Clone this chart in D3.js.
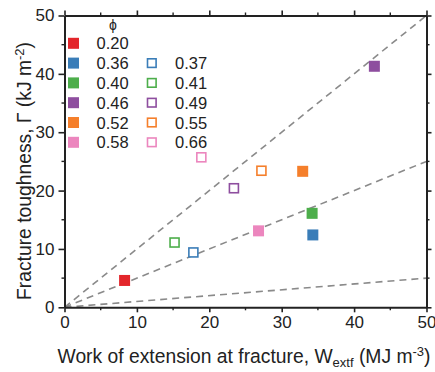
<!DOCTYPE html>
<html><head><meta charset="utf-8">
<script src="https://cdn.jsdelivr.net/npm/d3@7"></script>
<style>body{margin:0;background:#fff}svg{display:block}</style>
</head><body>
<svg id="c" width="435" height="372"></svg>
<script>
const phiLabels = ["0.20","0.36","0.37","0.40","0.41","0.46","0.49","0.52","0.55","0.58","0.66"];
const wValues   = [8.3, 34.3, 17.8, 34.2, 15.2, 42.8, 23.4, 32.9, 27.2, 26.8, 18.9];
const gValues   = [4.6, 12.4, 9.4, 16.1, 11.1, 41.3, 20.4, 23.3, 23.4, 13.1, 25.7];
const filled    = [true, true, false, true, false, true, false, true, false, true, false];
const colors    = ["#e3262b","#3a7db8","#3a7db8","#4dae4b","#4dae4b","#8e4e9f","#8e4e9f","#f57f2b","#f57f2b","#ec86be","#ec86be"];
const slopes    = [1, 0.5, 0.1];
const xTicks    = [0,10,20,30,40,50];
const yTicks    = [0,10,20,30,40,50];
const minorTicks = [5,15,25,35,45];
const legendCol1 = ["0.20","0.36","0.40","0.46","0.52","0.58"];
const legendCol2 = [null,"0.37","0.41","0.49","0.55","0.66"];

(function(){
const svg = d3.select("#c");
const x = d3.scaleLinear().domain([0,50]).range([64.5,426.5]);
const y = d3.scaleLinear().domain([0,50]).range([307.3,15.5]);
const font = "Liberation Sans, Arial, sans-serif";

svg.append("g").selectAll("line").data(slopes).join("line")
  .attr("x1", x(0)).attr("y1", y(0))
  .attr("x2", x(50)).attr("y2", d => y(50*d))
  .attr("stroke", "#8a8a8a").attr("stroke-width", 1.6)
  .attr("stroke-dasharray", "7,5");

const axisColor = "#222";
function styleAxis(g, showLabels){
  g.select(".domain").attr("stroke", axisColor).attr("stroke-width", 2);
  g.selectAll(".tick line").attr("stroke", axisColor).attr("stroke-width", 1.6);
  g.selectAll(".tick text").attr("font-family", font).attr("font-size", 17).attr("fill", "#222");
  if(!showLabels) g.selectAll(".tick text").remove();
}
const gBottom = svg.append("g").attr("transform", `translate(0,${y(0)})`)
  .call(d3.axisBottom(x).tickValues(xTicks).tickSize(5).tickSizeOuter(0).tickPadding(4));
styleAxis(gBottom, true);
const gTop = svg.append("g").attr("transform", `translate(0,${y(50)})`)
  .call(d3.axisTop(x).tickValues(xTicks).tickSize(5).tickSizeOuter(0));
styleAxis(gTop, false);
const gLeft = svg.append("g").attr("transform", `translate(${x(0)},0)`)
  .call(d3.axisLeft(y).tickValues(yTicks).tickSize(6).tickSizeOuter(0).tickPadding(4));
styleAxis(gLeft, true);
const gRight = svg.append("g").attr("transform", `translate(${x(50)},0)`)
  .call(d3.axisRight(y).tickValues(yTicks).tickSize(5).tickSizeOuter(0));
styleAxis(gRight, false);

const mx = svg.append("g").attr("stroke", axisColor).attr("stroke-width", 1.4);
minorTicks.forEach(v => {
  mx.append("line").attr("x1", x(v)).attr("x2", x(v)).attr("y1", y(0)).attr("y2", y(0)+3);
  mx.append("line").attr("x1", x(v)).attr("x2", x(v)).attr("y1", y(50)).attr("y2", y(50)-3);
  mx.append("line").attr("y1", y(v)).attr("y2", y(v)).attr("x1", x(0)).attr("x2", x(0)-3);
  mx.append("line").attr("y1", y(v)).attr("y2", y(v)).attr("x1", x(50)).attr("x2", x(50)+3);
});

const pts = phiLabels.map((p,i)=>({p, w:wValues[i], g:gValues[i], f:filled[i], c:colors[i]}));
svg.append("g").selectAll("rect").data(pts).join("rect")
  .attr("x", d => x(d.w) - (d.f?5.5:4.5))
  .attr("y", d => y(d.g) - (d.f?5.5:4.5))
  .attr("width", d => d.f?11:9).attr("height", d => d.f?11:9)
  .attr("fill", d => d.f ? d.c : "#fff")
  .attr("stroke", d => d.c).attr("stroke-width", d => d.f?0:1.6);

const colorOf = l => colors[phiLabels.indexOf(l)];
const leg = svg.append("g");
leg.append("text").attr("x", 113).attr("y", 30).attr("text-anchor","middle")
  .attr("font-family", font).attr("font-size", 14).attr("fill","#222").text("ϕ");
legendCol1.forEach((l,i) => {
  const cy = 43.3 + i*19.8;
  leg.append("rect").attr("x", 68).attr("y", cy-5.5).attr("width", 11).attr("height", 11).attr("fill", colorOf(l));
  leg.append("text").attr("x", 96.5).attr("y", cy+6).attr("font-family", font).attr("font-size", 16.5).attr("fill","#222").text(l);
});
legendCol2.forEach((l,i) => {
  if(!l) return;
  const cy = 43.3 + i*19.8;
  leg.append("rect").attr("x", 147.5).attr("y", cy-4.3).attr("width", 8.6).attr("height", 8.6)
    .attr("fill","#fff").attr("stroke", colorOf(l)).attr("stroke-width", 1.6);
  leg.append("text").attr("x", 175).attr("y", cy+6).attr("font-family", font).attr("font-size", 16.5).attr("fill","#222").text(l);
});

const xt = svg.append("text").attr("x", 244).attr("y", 363).attr("text-anchor","middle")
  .attr("font-family", font).attr("font-size", 19.3).attr("fill","#222");
xt.append("tspan").text("Work of extension at fracture, W");
xt.append("tspan").attr("font-size", 13).attr("dy", 4).text("extf");
xt.append("tspan").attr("dy", -4).text(" (MJ m");
xt.append("tspan").attr("font-size", 13).attr("dy", -7).text("-3");
xt.append("tspan").attr("dy", 7).text(")");

const yt = svg.append("text").attr("transform", `translate(31,171) rotate(-90)`).attr("text-anchor","middle")
  .attr("font-family", font).attr("font-size", 19.3).attr("fill","#222");
yt.append("tspan").text("Fracture toughness, Γ (kJ m");
yt.append("tspan").attr("font-size", 13).attr("dy", -7).text("-2");
yt.append("tspan").attr("dy", 7).text(")");
})();
</script>
</body></html>
